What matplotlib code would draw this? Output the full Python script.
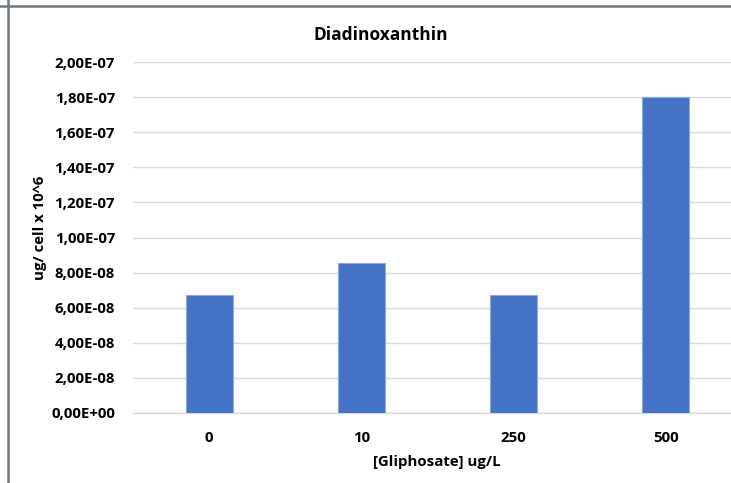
import matplotlib
matplotlib.use("Agg")
import matplotlib.pyplot as plt
from matplotlib.lines import Line2D
from matplotlib.ticker import FuncFormatter, MultipleLocator

# Diadinoxanthin content per cell at each glyphosate concentration
concentrations = ["0", "10", "250", "500"]
diadinoxanthin = [6.7e-08, 8.55e-08, 6.7e-08, 1.80e-07]

plt.rcParams['font.family'] = ['Open Sans', 'DejaVu Sans']
plt.rcParams['font.weight'] = 'bold'

fig = plt.figure(figsize=(7.31, 4.83), dpi=100)
ax = fig.add_axes([0.182, 0.145, 0.833, 0.7265])

x = range(len(concentrations))
ax.bar(x, diadinoxanthin, width=0.31, color='#4472c4', edgecolor='#8fa9dc',
       linewidth=0.8, zorder=3)

ax.set_xlim(-0.5, len(concentrations) - 0.5)
ax.set_ylim(0, 2.0e-07)
ax.yaxis.set_major_locator(MultipleLocator(2e-08))
ax.yaxis.set_major_formatter(
    FuncFormatter(lambda v, pos: f"{v:.2E}".replace('.', ',')))
ax.set_xticks(list(x))
ax.set_xticklabels(concentrations)

ax.grid(axis='y', color='#d9d9d9', linewidth=1, zorder=0)
for side in ['top', 'right', 'left']:
    ax.spines[side].set_visible(False)
ax.spines['bottom'].set_color('#d9d9d9')
ax.spines['bottom'].set_linewidth(1)
ax.tick_params(axis='both', length=0, labelsize=10.8, colors='#000000')
ax.tick_params(axis='y', pad=13)
ax.tick_params(axis='x', pad=13)
for lbl in ax.get_xticklabels() + ax.get_yticklabels():
    lbl.set_fontweight('bold')

ax.set_title("Diadinoxanthin", fontsize=12.5, fontweight='bold', pad=16,
             x=(381 - 133) / (742 - 133))
ax.set_xlabel("[Gliphosate] ug/L", fontsize=10.8, fontweight='bold', labelpad=7,
              x=(437 - 133) / (742 - 133))
ax.set_ylabel("ug/ cell x 10^6", fontsize=10.8, fontweight='bold')
ax.yaxis.set_label_coords((47 - 133) / (742 - 133), 0.527)

# sheet borders around the chart
fig.add_artist(Line2D([0, 1], [1 - 6 / 483, 1 - 6 / 483], color='#6f7782',
                      linewidth=1.8, transform=fig.transFigure))
fig.add_artist(Line2D([8 / 731, 8 / 731], [0, 1], color='#6f7782',
                      linewidth=1.8, transform=fig.transFigure))

fig.savefig("out.png", dpi=100)
